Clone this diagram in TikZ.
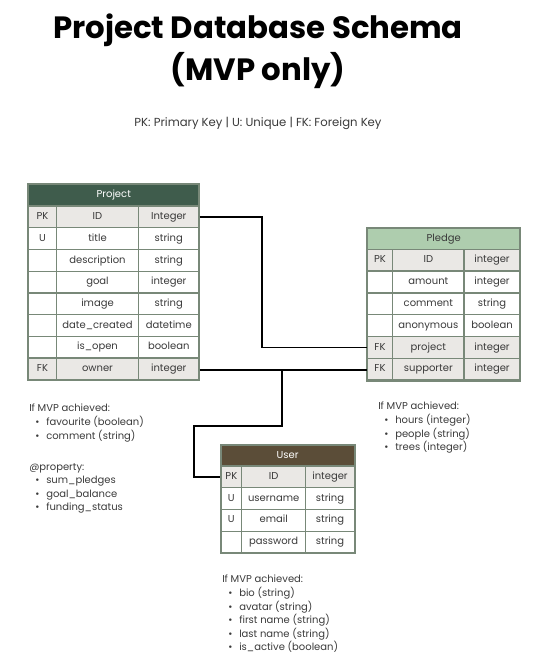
\documentclass[tikz,border=0pt]{standalone}
\usepackage{fontspec}
\setmainfont{Poppins}
\definecolor{projhead}{HTML}{3F5C4C}
\definecolor{pledgehead}{HTML}{AECDAE}
\definecolor{userhead}{HTML}{5B4D38}
\definecolor{keygray}{HTML}{EAE8E5}
\definecolor{edgegray}{HTML}{788878}
\definecolor{inkgray}{HTML}{3A3A3A}
\newcommand{\itm}[1]{\hspace*{4.5pt}\makebox[8.25pt][l]{\textbullet}#1}
\begin{document}
\begin{tikzpicture}[x=0.75pt,y=-0.75pt,
    cell/.style={draw=edgegray,line width=0.9pt,fill=white,rectangle,inner sep=0pt,
      minimum height=16.3pt,text height=5.6pt,text depth=1.6pt,text=inkgray,
      font=\fontsize{7.5}{9}\selectfont},
    key/.style={fill=keygray},
    col/.style={minimum width=#1},
    head/.style={cell,minimum height=#1,text=white},
    tableedge/.style={draw=edgegray,line width=1.3pt},
    link/.style={draw=black,line width=1.1pt},
    note/.style={anchor=north west,align=left,inner sep=0pt,text=inkgray,
      font=\fontsize{7.5}{10.2}\selectfont}]
\useasboundingbox (0,0) rectangle (554,668);

% title
\node[font=\fontsize{23.1}{31.5}\selectfont\bfseries,align=center,anchor=base] (title) at (258,80)
  {Project Database Schema\\(MVP only)};
\node[font=\fontsize{8.75}{10}\selectfont,text=inkgray,anchor=base] (legend) at (258,126)
  {PK: Primary Key | U: Unique | FK: Foreign Key};

% Project
\node[head=16.1pt,col=127.9pt,fill=projhead] (proj) at (113.75,195.3) {Project};
\node[cell,key,col=21pt] (pr1a) at (42.5,217) {PK};
\node[cell,key,col=61.5pt] (pr1b) at (97.5,217) {ID};
\node[cell,key,col=45.4pt] (pr1c) at (168.75,217) {Integer};
\node[cell,col=21pt] (pr2a) at (42.5,238.7) {U};
\node[cell,col=61.5pt] (pr2b) at (97.5,238.7) {title};
\node[cell,col=45.4pt] (pr2c) at (168.75,238.7) {string};
\node[cell,col=21pt] (pr3a) at (42.5,260.4) {};
\node[cell,col=61.5pt] (pr3b) at (97.5,260.4) {description};
\node[cell,col=45.4pt] (pr3c) at (168.75,260.4) {string};
\node[cell,col=21pt] (pr4a) at (42.5,282.1) {};
\node[cell,col=61.5pt] (pr4b) at (97.5,282.1) {goal};
\node[cell,col=45.4pt] (pr4c) at (168.75,282.1) {integer};
\node[cell,col=21pt] (pr5a) at (42.5,303.8) {};
\node[cell,col=61.5pt] (pr5b) at (97.5,303.8) {image};
\node[cell,col=45.4pt] (pr5c) at (168.75,303.8) {string};
\node[cell,col=21pt] (pr6a) at (42.5,325.5) {};
\node[cell,col=61.5pt] (pr6b) at (97.5,325.5) {date\_created};
\node[cell,col=45.4pt] (pr6c) at (168.75,325.5) {datetime};
\node[cell,col=21pt] (pr7a) at (42.5,347.2) {};
\node[cell,col=61.5pt] (pr7b) at (97.5,347.2) {is\_open};
\node[cell,col=45.4pt] (pr7c) at (168.75,347.2) {boolean};
\node[cell,key,col=21pt] (pr8a) at (42.5,368.9) {FK};
\node[cell,key,col=61.5pt] (pr8b) at (97.5,368.9) {owner};
\node[cell,key,col=45.4pt] (pr8c) at (168.75,368.9) {integer};
\draw[tableedge] (proj.north west) rectangle (pr8c.south east);

% Pledge
\node[head=15.75pt,col=114.5pt,fill=pledgehead,text=inkgray] (pledge) at (443.65,238.8) {Pledge};
\node[cell,key,col=19pt] (gr1a) at (380,260.2) {PK};
\node[cell,key,col=53.5pt] (gr1b) at (428.35,260.2) {ID};
\node[cell,key,col=42pt] (gr1c) at (492,260.2) {integer};
\node[cell,col=19pt] (gr2a) at (380,282) {};
\node[cell,col=53.5pt] (gr2b) at (428.35,282) {amount};
\node[cell,col=42pt] (gr2c) at (492,282) {integer};
\node[cell,col=19pt] (gr3a) at (380,303.8) {};
\node[cell,col=53.5pt] (gr3b) at (428.35,303.8) {comment};
\node[cell,col=42pt] (gr3c) at (492,303.8) {string};
\node[cell,col=19pt] (gr4a) at (380,325.6) {};
\node[cell,col=53.5pt] (gr4b) at (428.35,325.6) {anonymous};
\node[cell,col=42pt] (gr4c) at (492,325.6) {boolean};
\node[cell,key,col=19pt] (gr5a) at (380,347.4) {FK};
\node[cell,key,col=53.5pt] (gr5b) at (428.35,347.4) {project};
\node[cell,key,col=42pt] (gr5c) at (492,347.4) {integer};
\node[cell,key,col=19pt] (gr6a) at (380,369.2) {FK};
\node[cell,key,col=53.5pt] (gr6b) at (428.35,369.2) {supporter};
\node[cell,key,col=42pt] (gr6c) at (492,369.2) {integer};
\draw[tableedge] (pledge.north west) rectangle (gr6c.south east);

% User
\node[head=15.5pt,col=100pt,fill=userhead] (user) at (287.65,455.7) {User};
\node[cell,key,col=15.5pt] (ur1a) at (231.35,476.9) {PK};
\node[cell,key,col=48pt] (ur1b) at (273.7,476.9) {ID};
\node[cell,key,col=36.5pt] (ur1c) at (330,476.9) {integer};
\node[cell,col=15.5pt] (ur2a) at (231.35,498.6) {U};
\node[cell,col=48pt] (ur2b) at (273.7,498.6) {username};
\node[cell,col=36.5pt] (ur2c) at (330,498.6) {string};
\node[cell,col=15.5pt] (ur3a) at (231.35,520.3) {U};
\node[cell,col=48pt] (ur3b) at (273.7,520.3) {email};
\node[cell,col=36.5pt] (ur3c) at (330,520.3) {string};
\node[cell,col=15.5pt] (ur4a) at (231.35,542) {};
\node[cell,col=48pt] (ur4b) at (273.7,542) {password};
\node[cell,col=36.5pt] (ur4c) at (330,542) {string};
\draw[tableedge] (user.north west) rectangle (ur4c.south east);

% relations
\draw[link] (pr1c.east) -| (262,300) |- (gr5a.west);
\coordinate (split) at (282,370);
\draw[link] (pr8c.east |- split) -- (gr6a.west |- split);
\draw[link] (split) |- (194,426) |- (ur1a.west);

% notes
\node[note] (projnote) at (29,404)
  {If MVP achieved:\\\itm{favourite (boolean)}\\\itm{comment (string)}};
\node[note] (projprop) at (29,463)
  {@property:\\\itm{sum\_pledges}\\\itm{goal\_balance}\\\itm{funding\_status}};
\node[note] (pledgenote) at (378,402)
  {If MVP achieved:\\\itm{hours (integer)}\\\itm{people (string)}\\\itm{trees (integer)}};
\node[note] (usernote) at (222,575)
  {If MVP achieved:\\\itm{bio (string)}\\\itm{avatar (string)}\\\itm{first name (string)}\\\itm{last name (string)}\\\itm{is\_active (boolean)}};
\end{tikzpicture}
\end{document}
